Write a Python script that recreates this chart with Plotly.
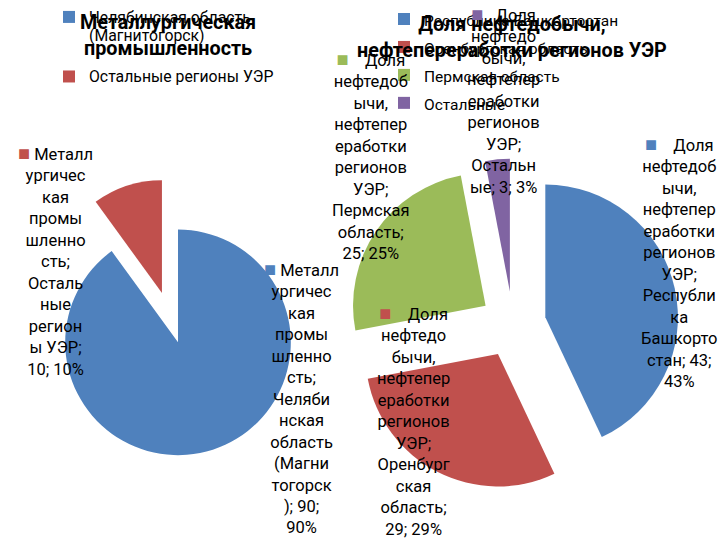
import plotly.graph_objects as go

# ---------------- data ----------------
metal_series = "Металлургическая промышленность"
metal_categories = ["Челябинская область (Магнитогорск)", "Остальные регионы УЭР"]
metal_values = [90, 10]

oil_series = "Доля нефтедобычи, нефтепереработки регионов УЭР"
oil_categories = ["Республика Башкортостан", "Оренбургская область", "Пермская область", "Остальные"]
oil_values = [43, 29, 25, 3]

# ---------------- style ----------------
metal_colors = ["#4F81BD", "#C0504D"]
oil_colors = ["#4F81BD", "#C0504D", "#9BBB59", "#8064A2"]
FONT = "Roboto"
LABEL_SIZE = 16.5

# line lengths used to wrap each data label (text layout, as in the original)
metal_wrap = [[6, 7, 3, 5, 6, 4, 6, 5, 7, 6, 7, 6, 3],
              [6, 7, 3, 5, 6, 4, 6, 3, 6, 6, 7]]
oil_wrap = [[4, 8, 4, 8, 8, 8, 4, 8, 2, 8, 9, 3],
            [4, 7, 5, 8, 8, 8, 4, 8, 4, 8, 7],
            [4, 8, 4, 8, 8, 8, 4, 8, 8, 7],
            [4, 7, 5, 8, 8, 8, 4, 7, 9]]
# label block centres (pixels) in the 720x540 canvas
metal_label_pos = [(301, 397), (55, 259)]
oil_label_pos = [(679, 261), (414, 420), (371, 154), (504, 99)]
metal_gap = ["&nbsp;", "&nbsp;"]
oil_gap = ["&nbsp;&nbsp;&nbsp;&nbsp;", "&nbsp;&nbsp;&nbsp;&nbsp;", "&nbsp;&nbsp;&nbsp;&nbsp;", "&nbsp;&nbsp;&nbsp;"]

W, H = 720, 540


def wrap(text, lengths):
    lines, i = [], 0
    for n in lengths:
        while i < len(text) and text[i] == " ":
            i += 1
        lines.append(text[i:i + n])
        i += n
    return lines


def pct(values):
    s = sum(values)
    return [round(v * 100 / s) for v in values]


fig = go.Figure()

# legend labels
metal_legend = [c.replace(" (", "<br>(") for c in metal_categories]
metal_legend[0] = metal_legend[0] + "<br>&nbsp;"
metal_legend = [f'<span style="font-size:15.8px">{c}</span>' for c in metal_legend]
oil_legend = [f'<span style="font-size:15.5px">{c}</span>' for c in oil_categories]

fig.add_trace(go.Pie(
    labels=metal_legend, values=metal_values, sort=False, direction="clockwise", rotation=0,
    marker=dict(colors=metal_colors, line=dict(width=0)),
    pull=[0, 0.46], textinfo="none", hoverinfo="label+value+percent",
    domain=dict(x=[13 / W, 343 / W], y=[1 - 507 / H, 1 - 177 / H]),
    legend="legend", name=metal_series,
))
fig.add_trace(go.Pie(
    labels=oil_legend, values=oil_values, sort=False, direction="clockwise", rotation=0,
    marker=dict(colors=oil_colors, line=dict(width=0)),
    pull=[0.25] * 4, textinfo="none", hoverinfo="label+value+percent",
    domain=dict(x=[347 / W, 679 / W], y=[1 - 490 / H, 1 - 158 / H]),
    legend="legend2", name=oil_series,
))

annotations = []
# titles
annotations.append(dict(text="<b>" + metal_series.replace(" ", "<br>") + "</b>",
                        x=168 / W, y=1 - 34.5 / H, xref="paper", yref="paper",
                        showarrow=False, font=dict(family=FONT, size=19.8, color="black"),
                        xanchor="center", yanchor="middle"))
t = oil_series.split(", ")
annotations.append(dict(text="<b>" + t[0] + ",<br>" + t[1] + "</b>",
                        x=512 / W, y=1 - 36.5 / H, xref="paper", yref="paper",
                        showarrow=False, font=dict(family=FONT, size=19.8, color="black"),
                        xanchor="center", yanchor="middle"))


def add_labels(series, cats, vals, colors, wraps, poss, gaps):
    ps = pct(vals)
    for cat, v, p, col, wl, (px, py), g in zip(cats, vals, ps, colors, wraps, poss, gaps):
        full = f"{series}; {cat}; {v}; {p}%"
        lines = wrap(full, wl)
        lines[0] = f'<span style="color:{col};font-size:20px">■</span>{g}' + lines[0]
        annotations.append(dict(text="<br>".join(lines), x=px / W, y=1 - py / H,
                                xref="paper", yref="paper", showarrow=False,
                                font=dict(family=FONT, size=LABEL_SIZE, color="black"),
                                xanchor="center", yanchor="middle", align="center"))


add_labels(metal_series, metal_categories, metal_values, metal_colors, metal_wrap, metal_label_pos, metal_gap)
add_labels(oil_series, oil_categories, oil_values, oil_colors, oil_wrap, oil_label_pos, oil_gap)

fig.update_layout(
    width=W, height=H, margin=dict(l=0, r=0, t=0, b=0),
    paper_bgcolor="white", plot_bgcolor="white",
    font=dict(family=FONT, color="black"),
    annotations=annotations,
    legend=dict(x=49 / W, y=1 - 1 / H, xanchor="left", yanchor="top", bgcolor="rgba(0,0,0,0)",
                font=dict(family=FONT, size=14.5, color="black"), valign="top"),
    legend2=dict(x=384 / W, y=1 + 1.5 / H, xanchor="left", yanchor="top", bgcolor="rgba(0,0,0,0)",
                 font=dict(family=FONT, size=19.2, color="black"), valign="middle"),
    showlegend=True,
)

fig.write_html("out.html", config={"displayModeBar": False},
               post_script="document.body.style.margin='0';")
